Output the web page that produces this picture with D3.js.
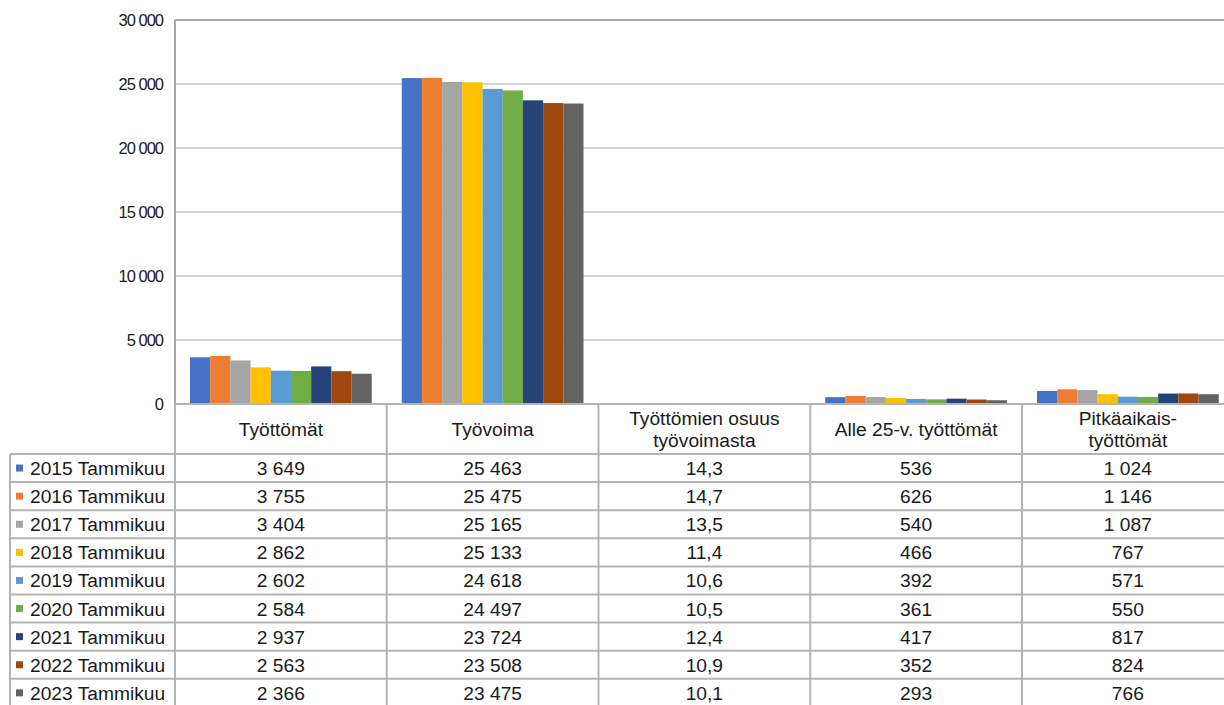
<!DOCTYPE html>
<html>
<head>
<meta charset="utf-8">
<script src="https://cdn.jsdelivr.net/npm/d3@7"></script>
<style>
	body { margin: 0; background: #fff; }
	svg { display: block; font-family: "Liberation Sans", Arial, sans-serif; }
</style>
</head>
<body>
<div id="chart-area"></div>
<script>
const categories = ["Työttömät", "Työvoima", "Työttömien osuus työvoimasta", "Alle 25-v. työttömät", "Pitkäaikais-työttömät"];
const headerLines = [["Työttömät"], ["Työvoima"], ["Työttömien osuus", "työvoimasta"], ["Alle 25-v. työttömät"], ["Pitkäaikais-", "työttömät"]];
const seriesNames = ["2015 Tammikuu", "2016 Tammikuu", "2017 Tammikuu", "2018 Tammikuu", "2019 Tammikuu",
	"2020 Tammikuu", "2021 Tammikuu", "2022 Tammikuu", "2023 Tammikuu"];
const colors = ["#4472C4", "#ED7D31", "#A5A5A5", "#FFC000", "#5B9BD5", "#70AD47", "#264478", "#9E480E", "#636363"];

// values per series, in category order
const tyottomat = [3649, 3755, 3404, 2862, 2602, 2584, 2937, 2563, 2366];
const tyovoima = [25463, 25475, 25165, 25133, 24618, 24497, 23724, 23508, 23475];
const osuus = [14.3, 14.7, 13.5, 11.4, 10.6, 10.5, 12.4, 10.9, 10.1];
const alle25 = [536, 626, 540, 466, 392, 361, 417, 352, 293];
const pitkaaikais = [1024, 1146, 1087, 767, 571, 550, 817, 824, 766];
const columns = [tyottomat, tyovoima, osuus, alle25, pitkaaikais];

const yTicks = [0, 5000, 10000, 15000, 20000, 25000, 30000];

const svgWidth = 1224, svgHeight = 705;
const plot = {left: 175, top: 20, bottom: 404};
const bandW = 211.75;
const headerH = 50, rowH = 28.1;
const legendLeft = 10;
const cellFont = "19.2px";

const fi = d3.formatLocale({decimal: ",", thousands: "\u00a0", grouping: [3], currency: ["", "€"]});
const fmtInt = fi.format(",d");
const fmtDec = fi.format(",.1f");

const svg = d3.select("#chart-area").append("svg")
	.attr("width", svgWidth)
	.attr("height", svgHeight);

const x = d3.scaleBand().domain(categories)
	.range([plot.left, plot.left + bandW * categories.length]);
const xs = d3.scaleBand().domain(seriesNames)
	.range([15, bandW - 15]);
const y = d3.scaleLinear().domain([0, 30000]).range([plot.bottom, plot.top]);

// gridlines
svg.append("g").selectAll("line").data(yTicks.slice(1, -1)).enter().append("line")
	.attr("x1", plot.left).attr("x2", svgWidth + 20)
	.attr("y1", d => y(d)).attr("y2", d => y(d))
	.attr("stroke", "#d4d4d4").attr("stroke-width", 2);

// y axis labels
const yAxis = svg.append("g")
	.attr("transform", `translate(${plot.left}, 0)`)
	.call(d3.axisLeft(y).tickValues(yTicks).tickSize(0).tickPadding(12).tickFormat(fmtInt));
yAxis.select(".domain").remove();
yAxis.selectAll("text")
	.attr("font-size", "16.5px")
	.attr("letter-spacing", "-1px")
	.attr("fill", "#1a1a1a")
	.style("font-family", "'Liberation Sans', Arial, sans-serif");

// bars
const groups = svg.append("g").selectAll("g").data(categories).enter().append("g")
	.attr("transform", d => `translate(${x(d)}, 0)`);
groups.selectAll("rect")
	.data((d, ci) => columns[ci].map((v, si) => ({v: v, s: seriesNames[si], i: si})))
	.enter().append("rect")
	.attr("x", d => xs(d.s))
	.attr("width", xs.bandwidth())
	.attr("y", d => y(d.v))
	.attr("height", d => y(0) - y(d.v))
	.attr("fill", d => colors[d.i]);

// plot frame (top + left)
svg.append("line")
	.attr("x1", plot.left).attr("x2", svgWidth + 20)
	.attr("y1", plot.top).attr("y2", plot.top)
	.attr("stroke", "#a6a6a6").attr("stroke-width", 2);
svg.append("line")
	.attr("x1", plot.left).attr("x2", plot.left)
	.attr("y1", plot.top).attr("y2", plot.bottom)
	.attr("stroke", "#a6a6a6").attr("stroke-width", 2);

// data table
const table = svg.append("g");
const gridColor = "#b4b4b4";
const tableRight = plot.left + bandW * categories.length;
const rowTop = i => plot.bottom + headerH + i * rowH;

// horizontal lines
table.append("line")
	.attr("x1", plot.left).attr("x2", tableRight)
	.attr("y1", plot.bottom).attr("y2", plot.bottom)
	.attr("stroke", gridColor).attr("stroke-width", 2);
table.selectAll(".hline").data(d3.range(seriesNames.length + 1)).enter().append("line")
	.attr("class", "hline")
	.attr("x1", legendLeft).attr("x2", tableRight)
	.attr("y1", d => rowTop(d)).attr("y2", d => rowTop(d))
	.attr("stroke", gridColor).attr("stroke-width", 2);

// vertical lines
table.append("line")
	.attr("x1", legendLeft).attr("x2", legendLeft)
	.attr("y1", rowTop(0)).attr("y2", rowTop(seriesNames.length))
	.attr("stroke", gridColor).attr("stroke-width", 2);
table.selectAll(".vline").data(d3.range(categories.length + 1)).enter().append("line")
	.attr("class", "vline")
	.attr("x1", d => plot.left + d * bandW).attr("x2", d => plot.left + d * bandW)
	.attr("y1", plot.bottom).attr("y2", rowTop(seriesNames.length))
	.attr("stroke", gridColor).attr("stroke-width", 2);

// header texts
table.selectAll(".head").data(categories).enter().append("text")
	.attr("class", "head")
	.attr("text-anchor", "middle")
	.attr("font-size", cellFont)
	.attr("fill", "#1a1a1a")
	.each(function(d, i) {
		const lines = headerLines[i];
		const cx = x(d) + bandW / 2;
		const cy = plot.bottom + headerH / 2;
		d3.select(this).selectAll("tspan").data(lines).enter().append("tspan")
			.attr("x", cx)
			.attr("y", (l, li) => cy + (li - (lines.length - 1) / 2) * 22 + 7)
			.text(l => l);
	});

// legend cells
const legendRows = table.selectAll(".lrow").data(seriesNames).enter().append("g")
	.attr("class", "lrow")
	.attr("transform", (d, i) => `translate(0, ${rowTop(i) + rowH / 2})`);
legendRows.append("rect")
	.attr("x", 16).attr("y", -3.5)
	.attr("width", 7).attr("height", 7)
	.attr("fill", (d, i) => colors[i]);
legendRows.append("text")
	.attr("x", 30).attr("y", 7)
	.attr("font-size", cellFont)
	.attr("fill", "#1a1a1a")
	.text(d => d);

// value cells
columns.forEach((col, ci) => {
	table.append("g").selectAll("text").data(col).enter().append("text")
		.attr("x", x(categories[ci]) + bandW / 2)
		.attr("y", (d, i) => rowTop(i) + rowH / 2 + 7)
		.attr("text-anchor", "middle")
		.attr("font-size", cellFont)
		.attr("fill", "#1a1a1a")
		.text(d => ci === 2 ? fmtDec(d) : fmtInt(d));
});
</script>
</body>
</html>
